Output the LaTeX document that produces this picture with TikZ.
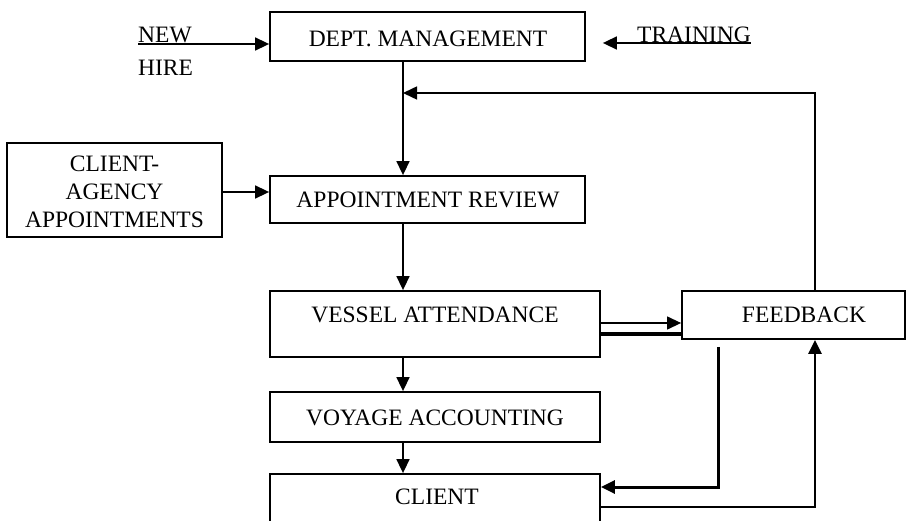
\documentclass[tikz,border=0pt]{standalone}
\usepackage{fontspec}
\setmainfont{Liberation Serif}
\usetikzlibrary{arrows.meta}
\begin{document}
\begin{tikzpicture}[x=1pt,y=-1pt,
  box/.style={draw, line width=1.8pt, inner sep=0pt, fill=none},
  txt/.style={font=\fontsize{23.5}{27}\selectfont, inner sep=0pt},
  arr/.style={-{Triangle[length=14pt,width=13pt]}, line width=1.6pt}]
\useasboundingbox (0,0) rectangle (919,521);
\fill[white] (0,0) rectangle (919,521);
\clip (0,0) rectangle (919,521);

% boxes
\node[box, minimum width=315pt, minimum height=49pt] (dept) at (427.5,36.5) {};
\node[txt] (deptt) at (428,39) {DEPT. MANAGEMENT};
\node[box, minimum width=315pt, minimum height=47pt] (appt) at (427.5,199.5) {};
\node[txt] (apptt) at (428,200) {APPOINTMENT REVIEW};
\node[box, minimum width=215pt, minimum height=94pt] (ca) at (114.5,190) {};
\node[txt, align=center] (cat) at (114.5,192) {CLIENT-\\[1pt]AGENCY\\[1pt]APPOINTMENTS};
\node[box, minimum width=330pt, minimum height=66pt] (vessel) at (435,324) {};
\node[txt] (vesselt) at (435,315) {VESSEL ATTENDANCE};
\node[box, minimum width=223pt, minimum height=48pt] (feedback) at (793.5,315) {};
\node[txt] (feedbackt) at (804,315) {FEEDBACK};
\node[box, minimum width=330pt, minimum height=50pt] (voyage) at (435,417) {};
\node[txt] (voyaget) at (435,418) {VOYAGE ACCOUNTING};
\node[box, minimum width=330pt, minimum height=80pt] (client) at (435,514) {};
\node[txt] (clientt) at (437,497) {CLIENT};

% outside labels
\node[txt, anchor=west] (new) at (138,35) {NEW};
\node[txt, anchor=west] (hire) at (138,68) {HIRE};
\node[txt, anchor=west] (training) at (637,35) {TRAINING};

% helper coordinates
\coordinate (cx) at (403,0);
\coordinate (lj) at (403,93);
\coordinate (rx) at (815,0);
\coordinate (lx) at (718,0);
\coordinate (ny) at (0,44);
\coordinate (ty) at (0,43);
\coordinate (ay) at (0,192);
\coordinate (uy) at (0,323);
\coordinate (ly) at (0,334);
\coordinate (cy) at (0,487);
\coordinate (by) at (0,507);

% top inputs
\draw[arr] (new.west |- ny) -- (dept.west |- ny);
\draw[arr, shorten >=17pt] (training.east |- ty) -- (dept.east |- ty);

% main flow
\draw[arr] (dept.south -| cx) -- (appt.north -| cx);
\draw[arr] (ca.east |- ay) -- (appt.west |- ay);
\draw[arr] (appt.south -| cx) -- (vessel.north -| cx);
\draw[arr] (vessel.south -| cx) -- (voyage.north -| cx);
\draw[arr] (voyage.south -| cx) -- (client.north -| cx);

% feedback loop
\draw[arr, line width=1.5pt] (feedback.north -| rx) |- (lj);
\draw[arr, line width=1.3pt] (vessel.east |- uy) -- (feedback.west |- uy);
\draw[line width=3.2pt] (vessel.east |- ly) -- (feedback.west |- ly);
\draw[arr, line width=3pt] ([yshift=-7pt]feedback.south -| lx) |- (client.east |- cy);
\draw[arr, line width=2.4pt] (client.east |- by) -| (feedback.south -| rx);
\end{tikzpicture}
\end{document}
